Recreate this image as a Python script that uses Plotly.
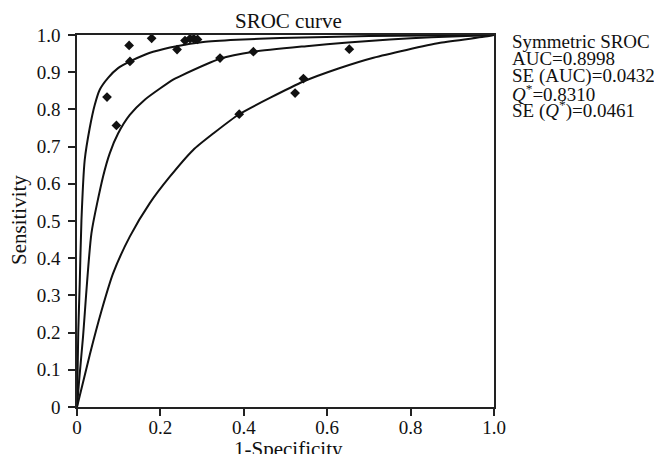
import plotly.graph_objects as go

# Study points (1-Specificity, Sensitivity)
study_fpr = [0.072, 0.0945, 0.125, 0.127, 0.179, 0.240, 0.259, 0.271, 0.280, 0.289,
             0.343, 0.423, 0.653, 0.389, 0.523, 0.543]
study_sens = [0.833, 0.757, 0.972, 0.929, 0.991, 0.961, 0.985, 0.990, 0.990, 0.988,
              0.938, 0.955, 0.962, 0.787, 0.844, 0.883]

# Curves
top_fpr = [0, 0.003, 0.0065, 0.0106, 0.0185, 0.0305, 0.0425, 0.0545, 0.0745, 0.0985,
           0.127, 0.1626, 0.1825, 0.239, 0.303, 0.383, 0.487, 0.7, 1.0]
top_sens = [0, 0.20, 0.33, 0.50, 0.664, 0.75, 0.812, 0.853, 0.885, 0.911,
            0.929, 0.947, 0.955, 0.970, 0.981, 0.987, 0.992, 0.997, 1.0]

mid_fpr = [0, 0.005, 0.0144, 0.0346, 0.0624, 0.0785, 0.0985, 0.1266, 0.1626, 0.2305,
           0.2466, 0.343, 0.424, 0.55, 0.65, 0.75, 0.85, 1.0]
mid_sens = [0, 0.07, 0.188, 0.467, 0.619, 0.682, 0.735, 0.785, 0.826, 0.880,
            0.889, 0.936, 0.955, 0.970, 0.980, 0.988, 0.994, 1.0]

low_fpr = [0, 0.0305, 0.0586, 0.0865, 0.1266, 0.1746, 0.2226, 0.2786, 0.3266, 0.389,
           0.543, 0.627, 0.711, 0.871, 0.975, 1.0]
low_sens = [0, 0.14, 0.258, 0.359, 0.458, 0.548, 0.619, 0.691, 0.735, 0.787,
            0.875, 0.910, 0.939, 0.979, 0.995, 1.0]

x_ticks = [0, 0.2, 0.4, 0.6, 0.8, 1.0]
x_ticktext = ["0", "0.2", "0.4", "0.6", "0.8", "1.0"]
y_ticks = [0, 0.1, 0.2, 0.3, 0.4, 0.5, 0.6, 0.7, 0.8, 0.9, 1.0]
y_ticktext = ["0", "0.1", "0.2", "0.3", "0.4", "0.5", "0.6", "0.7", "0.8", "0.9", "1.0"]

stats_lines = [
    "Symmetric SROC",
    "AUC=0.8998",
    "SE (AUC)=0.0432",
    "<i>Q</i><sup>*</sup>=0.8310",
    "SE (<i>Q</i><sup>*</sup>)=0.0461",
]

FONT = "Liberation Serif, Times New Roman, serif"
W, H = 654, 454
L, R, T, B = 77, 160, 35, 47
PW, PH = W - L - R, H - T - B

def px_x(px):
    return (px - L) / PW

def px_y(py):
    return (H - B - py) / PH

fig = go.Figure()
for xs, ys in [(top_fpr, top_sens), (mid_fpr, mid_sens), (low_fpr, low_sens)]:
    fig.add_trace(go.Scatter(x=xs, y=ys, mode="lines",
                             line=dict(color="#111111", width=2, shape="spline", smoothing=0.6),
                             hoverinfo="skip", showlegend=False))
fig.add_trace(go.Scatter(x=study_fpr, y=study_sens, mode="markers",
                         marker=dict(symbol="diamond", size=7.5, color="#111111"),
                         cliponaxis=False, showlegend=False))

annotations = []
annotations.append(dict(text="SROC curve", xref="paper", yref="paper",
                        x=px_x(288), y=px_y(21), xanchor="center", yanchor="middle",
                        showarrow=False, font=dict(family=FONT, size=21, color="#111111")))
annotations.append(dict(text="Sensitivity", xref="paper", yref="paper", textangle=-90,
                        x=px_x(19), y=px_y(220), xanchor="center", yanchor="middle",
                        showarrow=False, font=dict(family=FONT, size=21, color="#111111")))
annotations.append(dict(text="1-Specificity", xref="paper", yref="paper",
                        x=px_x(288), y=px_y(449), xanchor="center", yanchor="middle",
                        showarrow=False, font=dict(family=FONT, size=21, color="#111111")))
line_centers = [42, 58.5, 75.5, 92.5, 109.5]
for txt, cy in zip(stats_lines, line_centers):
    annotations.append(dict(text=txt, xref="paper", yref="paper",
                            x=px_x(510), y=px_y(cy), xanchor="left", yanchor="middle",
                            showarrow=False, font=dict(family=FONT, size=19, color="#111111")))

axis_common = dict(range=[0, 1], showgrid=False, zeroline=False, showline=True,
                   linecolor="#222222", linewidth=1.5, mirror=True, ticks="outside",
                   ticklen=7, tickwidth=1.5, tickcolor="#222222",
                   tickfont=dict(family=FONT, size=19, color="#111111"))

fig.update_layout(
    width=W, height=H,
    margin=dict(l=L, r=R, t=T, b=B),
    paper_bgcolor="white", plot_bgcolor="white",
    xaxis=dict(tickvals=x_ticks, ticktext=x_ticktext, ticklabelstandoff=-5, **axis_common),
    yaxis=dict(tickvals=y_ticks, ticktext=y_ticktext, ticklabelstandoff=4, **axis_common),
    annotations=annotations,
    showlegend=False,
)

fig.write_html("out.html", config={"displayModeBar": False},
               post_script="document.body.style.margin='0';document.body.style.overflow='hidden';")
